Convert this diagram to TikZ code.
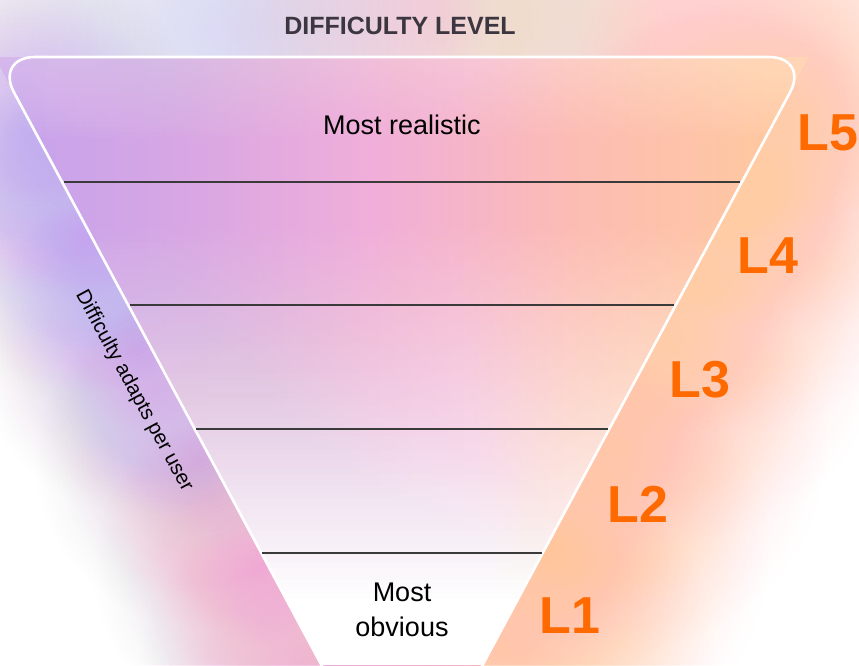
\documentclass[tikz,border=0pt]{standalone}
\usepackage{fontspec}
\setmainfont{Liberation Sans}
\definecolor{cfA}{HTML}{D8C8F4}
\definecolor{cfB}{HTML}{C2A2EE}
\definecolor{cfC}{HTML}{D6A6E4}
\definecolor{cfD}{HTML}{F0AEDA}
\definecolor{cfE}{HTML}{FCBCB4}
\definecolor{cfF}{HTML}{FFC8A0}
\definecolor{cfG}{HTML}{FFCCA6}
\definecolor{cfH}{HTML}{FFD6BA}
\pgfdeclarehorizontalshading{funnelshade}{100bp}{%
  color(0bp)=(cfA); color(4.66bp)=(cfA); color(23.3bp)=(cfB); color(34.9bp)=(cfC);
  color(46.6bp)=(cfD); color(58.2bp)=(cfE); color(69.8bp)=(cfF); color(81.5bp)=(cfG);
  color(93.1bp)=(cfH); color(100bp)=(cfH)}
\definecolor{clav}{HTML}{C4A4EE}
\definecolor{cmauve}{HTML}{D4A6E8}
\definecolor{cpink}{HTML}{EFA8D4}
\definecolor{cpeach}{HTML}{FFCCA4}
\definecolor{cpeachd}{HTML}{FFC69C}
\definecolor{ctoplav}{HTML}{DCCBF4}
\definecolor{ctoppink}{HTML}{F0C4E4}
\definecolor{ctoppeach}{HTML}{FFDCC6}
\definecolor{clvl}{HTML}{FF6A00}
\definecolor{ctitle}{HTML}{3B3640}
\definecolor{crule}{HTML}{3A3A3A}
% soft glow built from 40 stacked translucent discs whose total cover follows
% C*(1-u^2)^2 (u = distance / radius): colour, x, y, radius, C
\newcommand{\softblob}[5]{%
  \foreach \kk in {1,...,40}{%
    \pgfmathsetmacro{\rr}{#4*(1-(\kk-1)/40)}%
    \pgfmathsetmacro{\um}{1-(\kk-0.5)/40}%
    \pgfmathsetmacro{\up}{1-(\kk-1.5)/40}%
    \pgfmathsetmacro{\cc}{#5*(1-\um*\um)*(1-\um*\um)}%
    \pgfmathsetmacro{\cp}{#5*max(0,1-\up*\up)*max(0,1-\up*\up)}%
    \pgfmathsetmacro{\aa}{1-(1-\cc)/(1-\cp)}%
    \fill[#1, fill opacity=\aa] (#2,#3) circle[radius=\rr pt];}}
\begin{document}
\begin{tikzpicture}[x=1pt,y=-1pt,
  levellabel/.style={font=\fontsize{52}{52}\selectfont\bfseries, text=clvl, inner sep=0pt},
  bodytext/.style={font=\fontsize{27}{35}\selectfont, text=black, inner sep=0pt, align=center},
  rulestyle/.style={draw=crule, line width=1.2pt},
  edgestyle/.style={draw=white, line width=2.6pt, rounded corners=40pt}]
\useasboundingbox (0,0) rectangle (859,665);
\fill[white] (0,0) rectangle (859,665);
\begin{scope}
\clip (0,0) rectangle (859,665);
% glow above the funnel
\softblob{ctoplav}{230}{30}{320}{0.35}
\softblob{ctoppink}{440}{10}{230}{0.3}
\softblob{ctoppeach}{640}{20}{320}{0.35}
% glow along the left edge
\softblob{clav}{24}{130}{180}{0.55}
\softblob{clav}{83}{240}{170}{0.6}
\softblob{clav}{142}{350}{170}{0.6}
\softblob{cmauve}{201}{460}{170}{0.55}
\softblob{cpink}{260}{570}{170}{0.55}
\softblob{cpink}{305}{665}{170}{0.55}
% glow along the right edge
\softblob{cpeach}{790}{110}{230}{0.45}
\softblob{cpeach}{731}{220}{220}{0.45}
\softblob{cpeach}{672}{330}{220}{0.45}
\softblob{cpeach}{613}{440}{220}{0.45}
\softblob{cpeachd}{554}{550}{220}{0.5}
\softblob{cpeachd}{500}{655}{220}{0.55}
% funnel interior
\begin{scope}
\clip (-5,57) -- (809,57) -- (402,815) -- cycle;
\path[shading=funnelshade] (0,57) rectangle (859,665);
% lighter band just under the top edge
\foreach \kk in {1,...,16}{%
  \fill[white, fill opacity=0.022] (0,50) rectangle (859,{57+5*\kk});}
% fade to white towards the bottom
\foreach \kk in {1,...,60}{%
  \pgfmathsetmacro{\yy}{230+6.25*(\kk-1)}%
  \pgfmathsetmacro{\aa}{1-((60-\kk)/(61-\kk))^1.25}%
  \fill[white, fill opacity=\aa] (0,\yy) rectangle (859,665);}
\end{scope}
% funnel outline
\draw[edgestyle] (-5,57) -- (809,57) -- (402,815) -- cycle;
\end{scope}
% level rules
\coordinate (r1l) at (64,182);  \coordinate (r1r) at (740,182);
\coordinate (r2l) at (130,305); \coordinate (r2r) at (674,305);
\coordinate (r3l) at (196,429); \coordinate (r3r) at (608,429);
\coordinate (r4l) at (262,553); \coordinate (r4r) at (542,553);
\draw[rulestyle] (r1l) -- (r1r);
\draw[rulestyle] (r2l) -- (r2r);
\draw[rulestyle] (r3l) -- (r3r);
\draw[rulestyle] (r4l) -- (r4r);
% texts
\node[font=\fontsize{25}{25}\selectfont\bfseries, text=ctitle, inner sep=0pt] (title) at (400,26) {DIFFICULTY LEVEL};
\node[bodytext] (top) at (402,125) {Most realistic};
\node[bodytext] (bottom) at (402,610) {Most\\obvious};
\node[font=\fontsize{20.5}{20.5}\selectfont, inner sep=0pt, rotate=-61.5] (side) at (134,391) {Difficulty adapts per user};
\node[levellabel] (L5) at (828,133) {L5};
\node[levellabel] (L4) at (768,256) {L4};
\node[levellabel] (L3) at (700,380) {L3};
\node[levellabel] (L2) at (638,504) {L2};
\node[levellabel] (L1) at (570,616) {L1};
\end{tikzpicture}
\end{document}
